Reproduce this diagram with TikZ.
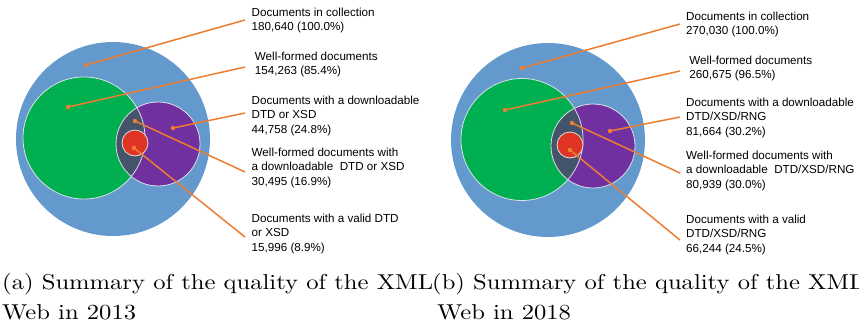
\documentclass[tikz,border=0pt]{standalone}
\usepackage{fontspec}
\usepackage{graphicx}
\newfontfamily\labfont{Liberation Sans}
\definecolor{cblue}{RGB}{99,153,204}
\definecolor{cgreen}{RGB}{0,176,80}
\definecolor{cpurple}{RGB}{112,48,160}
\definecolor{cslate}{RGB}{68,84,106}
\definecolor{cred}{RGB}{224,52,36}
\definecolor{corange}{RGB}{237,125,49}
\definecolor{cedge}{RGB}{220,225,232}
\newcommand{\labtab}[1]{\begin{tabular}[t]{@{}l@{}}#1\end{tabular}}
\newcommand{\captab}[1]{\scalebox{2.46}[2.15]{\fontsize{10}{13.95}\selectfont\begin{tabular}[t]{@{}l@{}}#1\end{tabular}}}
\tikzset{
  labtext/.style={anchor=base west, inner sep=0pt, font=\labfont\fontsize{11.65}{14.5}\selectfont},
  captext/.style={anchor=base west, inner sep=0pt},
  leader/.style={draw=corange, line width=1.5pt},
  leaderdot/.style={fill=corange},
  ring/.style={draw=cedge, line width=0.8pt},
}
\begin{document}
\begin{tikzpicture}[x=1pt,y=-1pt]
\useasboundingbox (0,0) rectangle (859,325);
% ---------- panel (a) ----------
\coordinate (aB) at (113,139);
\coordinate (aG) at (84,138);
\coordinate (aP) at (158,144);
\coordinate (aR) at (135,143);
\fill[cblue] (aB) circle (97);
\fill[cgreen] (aG) circle (61);
\fill[cpurple] (aP) circle (42);
\begin{scope}
  \clip (aG) circle (61);
  \fill[cslate] (aP) circle (42);
\end{scope}
\draw[ring] (aG) circle (61);
\draw[ring] (aP) circle (42);
\fill[cred] (aR) circle (13);
\draw[ring] (aR) circle (13);
\coordinate (ad1) at (86,65);
\coordinate (ad2) at (68,107);
\coordinate (ad3) at (173,128);
\coordinate (ad4) at (135,121);
\coordinate (ad5) at (134,148);
\coordinate (ae1) at (245,20);
\coordinate (ae2) at (245,67);
\coordinate (ae3) at (245,113);
\coordinate (ae4) at (245,172);
\coordinate (ae5) at (245,237);
\foreach \i in {1,...,5}{
  \draw[leader] (ad\i) -- (ae\i);
  \fill[leaderdot] (ad\i) circle (2.2);
}
\node[labtext] (at1) at (251.5,16) {\labtab{Documents in collection\\180,640 (100.0\%)}};
\node[labtext] (at2) at (251.5,60) {\labtab{\ Well-formed documents\\\ 154,263 (85.4\%)}};
\node[labtext] (at3) at (251.5,104) {\labtab{Documents with a downloadable\\DTD or XSD\\44,758 (24.8\%)}};
\node[labtext] (at4) at (251.5,156) {\labtab{Well-formed documents with\\a downloadable\ \ DTD or XSD\\30,495 (16.9\%)}};
\node[labtext] (at5) at (251.5,222) {\labtab{Documents with a valid DTD\\or XSD\\15,996 (8.9\%)}};
% ---------- panel (b) ----------
\coordinate (bB) at (548,140);
\coordinate (bG) at (522,139.5);
\coordinate (bP) at (593,146);
\coordinate (bR) at (570,145);
\fill[cblue] (bB) circle (97);
\fill[cgreen] (bG) circle (61);
\fill[cpurple] (bP) circle (42);
\begin{scope}
  \clip (bG) circle (61);
  \fill[cslate] (bP) circle (42);
\end{scope}
\draw[ring] (bG) circle (61);
\draw[ring] (bP) circle (42);
\fill[cred] (bR) circle (13);
\draw[ring] (bR) circle (13);
\coordinate (bd1) at (522,68);
\coordinate (bd2) at (505,110);
\coordinate (bd3) at (610,131);
\coordinate (bd4) at (572,123);
\coordinate (bd5) at (570,150);
\coordinate (be1) at (680,24);
\coordinate (be2) at (680,71);
\coordinate (be3) at (680,117);
\coordinate (be4) at (680,173);
\coordinate (be5) at (680,240);
\foreach \i in {1,...,5}{
  \draw[leader] (bd\i) -- (be\i);
  \fill[leaderdot] (bd\i) circle (2.2);
}
\node[labtext] (bt1) at (686,20) {\labtab{Documents in collection\\270,030 (100.0\%)}};
\node[labtext] (bt2) at (686,64) {\labtab{\ Well-formed documents\\\ 260,675 (96.5\%)}};
\node[labtext] (bt3) at (686,106) {\labtab{Documents with a downloadable\\DTD/XSD/RNG\\81,664 (30.2\%)}};
\node[labtext] (bt4) at (686,159) {\labtab{Well-formed documents with\\a downloadable\ \ DTD/XSD/RNG\\80,939 (30.0\%)}};
\node[labtext] (bt5) at (686,223) {\labtab{Documents with a valid\\DTD/XSD/RNG\\66,244 (24.5\%)}};
% ---------- captions ----------
\node[captext] (capa) at (2,289) {\captab{(a) Summary of the quality of the XML\\Web in 2013}};
\node[captext] (capb) at (432,289) {\captab{(b) Summary of the quality of the XML\\\hspace{2pt}Web in 2018}};
\end{tikzpicture}
\end{document}
